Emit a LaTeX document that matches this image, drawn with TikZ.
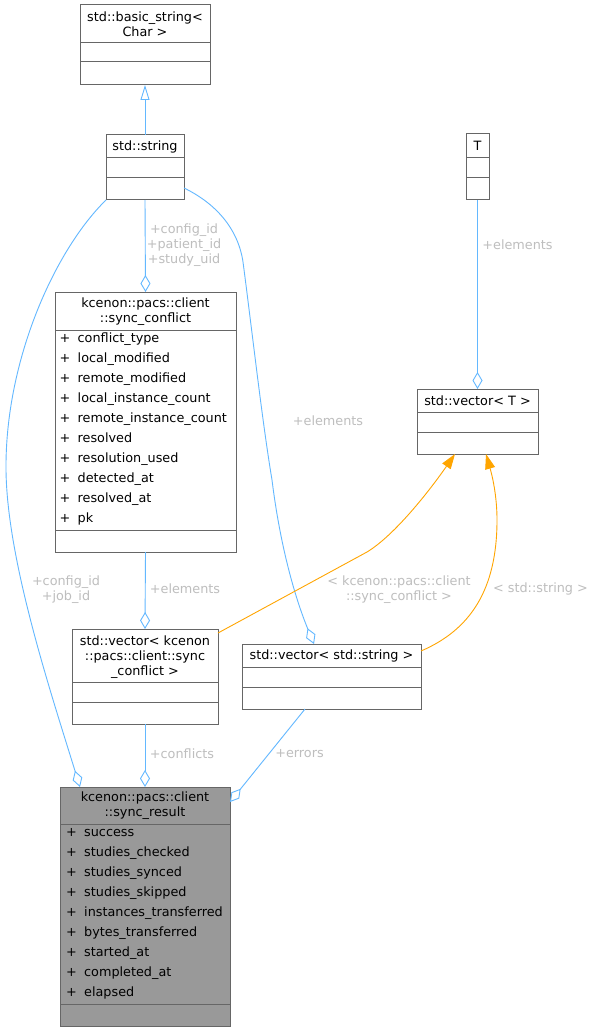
\documentclass[tikz,border=0pt]{standalone}
\usepackage{fontspec}
\setmainfont{DejaVu Sans}
\usetikzlibrary{arrows.meta,calc}
\definecolor{edgeblue}{HTML}{63B8FF}
\definecolor{edgeorange}{HTML}{FFA500}
\definecolor{boxgray}{HTML}{666666}
\definecolor{labelgray}{HTML}{BEBEBE}
\definecolor{resultfill}{HTML}{999999}
\newcommand\umlclass[8]{%
  \node[umlbox, fill=#8, minimum width=#4pt, minimum height=#5pt] (#1) at (#2,#3) {};
  \draw[divider] ([yshift=-#6pt]#1.north west) -- ([yshift=-#6pt]#1.north east);
  \draw[divider] ([yshift=-#7pt]#1.north west) -- ([yshift=-#7pt]#1.north east);
}
\newcommand\fld[1]{\makebox[18pt][l]{+}#1}
\begin{document}
\begin{tikzpicture}[x=1pt,y=-1pt,
  umlbox/.style={draw=boxgray, line width=1pt, rectangle, inner sep=0pt, outer sep=0pt, anchor=north west},
  divider/.style={draw=boxgray, line width=1pt},
  ttl/.style={align=center, inner sep=0pt, font=\fontsize{12.8}{15}\selectfont},
  fieldtxt/.style={anchor=west, inner sep=0pt, text height=9.5pt, text depth=2.7pt, font=\fontsize{12.8}{15}\selectfont},
  elabel/.style={text=labelgray, align=center, inner sep=0pt, font=\fontsize{12.8}{15}\selectfont},
  assoc/.style={draw=edgeblue, line width=0.9pt, -{Diamond[open, length=17pt, width=10pt]}},
  inherit/.style={draw=edgeblue, line width=0.9pt, -{Triangle[open, length=15pt, width=9pt]}},
  tmpl/.style={draw=edgeorange, line width=0.9pt, -{Triangle[length=15pt, width=10pt, fill=edgeorange]}},
]
\path[use as bounding box, fill=white] (0,0) rectangle (595,1032);

% classes
\umlclass{bs}{80}{5}{130}{80}{38}{57}{white}
\node[ttl] (bs-t) at (145,24.5) {std::basic\_string<\\Char >};

\umlclass{str}{106}{135}{78}{65}{23}{43}{white}
\node[ttl] (str-t) at (145,147) {std::string};

\umlclass{tT}{466}{134}{23}{66}{24}{44}{white}
\node[ttl] (tT-t) at (477.5,146) {T};

\umlclass{vT}{417}{389}{121}{65}{23}{43}{white}
\node[ttl] (vT-t) at (477.5,401) {std::vector< T >};

\umlclass{sc}{55}{292}{181}{260}{38}{238}{white}
\node[ttl] (sc-t) at (145.5,311.5) {kcenon::pacs::client\\::sync\_conflict};
\foreach \f [count=\i from 0] in {conflict\_type,local\_modified,remote\_modified,local\_instance\_count,remote\_instance\_count,resolved,resolution\_used,detected\_at,resolved\_at,pk}
  \node[fieldtxt] (sc-f\i) at (59.5,{339+20*\i}) {\fld{\f}};

\umlclass{vsc}{72}{629}{146}{95}{53}{73}{white}
\node[ttl] (vsc-t) at (145,657) {std::vector< kcenon\\::pacs::client::sync\\\_conflict >};

\umlclass{vs}{242}{644}{179}{65}{23}{43}{white}
\node[ttl] (vs-t) at (331.5,656) {std::vector< std::string >};

\umlclass{sr}{60}{787}{170}{239}{37}{217}{resultfill}
\node[ttl] (sr-t) at (145,805.5) {kcenon::pacs::client\\::sync\_result};
\foreach \f [count=\i from 0] in {success,studies\_checked,studies\_synced,studies\_skipped,instances\_transferred,bytes\_transferred,started\_at,completed\_at,elapsed}
  \node[fieldtxt] (sr-f\i) at (66,{833+20*\i}) {\fld{\f}};

% connectors
\draw[inherit] (str.north) -- (bs.south);
\draw[assoc] (str.south) -- (sc.north);
\draw[assoc] (tT.south) -- (vT.north);
\draw[assoc] (sc.south) -- (vsc.north);
\draw[assoc] (vsc.south) -- (sr.north);
\draw[assoc] ([xshift=63pt]vs.south west) -- ([yshift=-15pt]sr.north east);
\draw[assoc] (str.south west) .. controls (55,250) and (5,360) .. (6,470)
  .. controls (7,560) and (50,690) .. ([xshift=20pt]sr.north west);
\draw[assoc] ([yshift=-53pt]str.north east) .. controls (215,203) and (238,228) .. (243,262)
  .. controls (252,330) and (262,420) .. (272,480)
  .. controls (282,560) and (300,610) .. ([xshift=72pt]vs.north west);
\draw[tmpl] ([yshift=-4pt]vsc.north east) -- (367,552)
  .. controls (395,535) and (430,490) .. ([xshift=38pt]vT.south west);
\draw[tmpl] ([yshift=-7pt]vs.north east) .. controls (470,630) and (497,590) .. (497,520)
  .. controls (497,495) and (492,475) .. ([xshift=69pt]vT.south west);

% labels
\node[elabel] (l1) at (184,245) {+config\_id\\+patient\_id\\+study\_uid};
\node[elabel] (l2) at (66,589.5) {+config\_id\\+job\_id};
\node[elabel] (l3) at (328,421) {+elements};
\node[elabel] (l4) at (517.5,245) {+elements};
\node[elabel] (l5) at (185,589) {+elements};
\node[elabel] (l6) at (182,754) {+conflicts};
\node[elabel] (l7) at (299.5,754) {+errors};
\node[elabel] (l8) at (399,589.5) {< kcenon::pacs::client\\::sync\_conflict >};
\node[elabel] (l9) at (540.5,589) {< std::string >};
\end{tikzpicture}
\end{document}
